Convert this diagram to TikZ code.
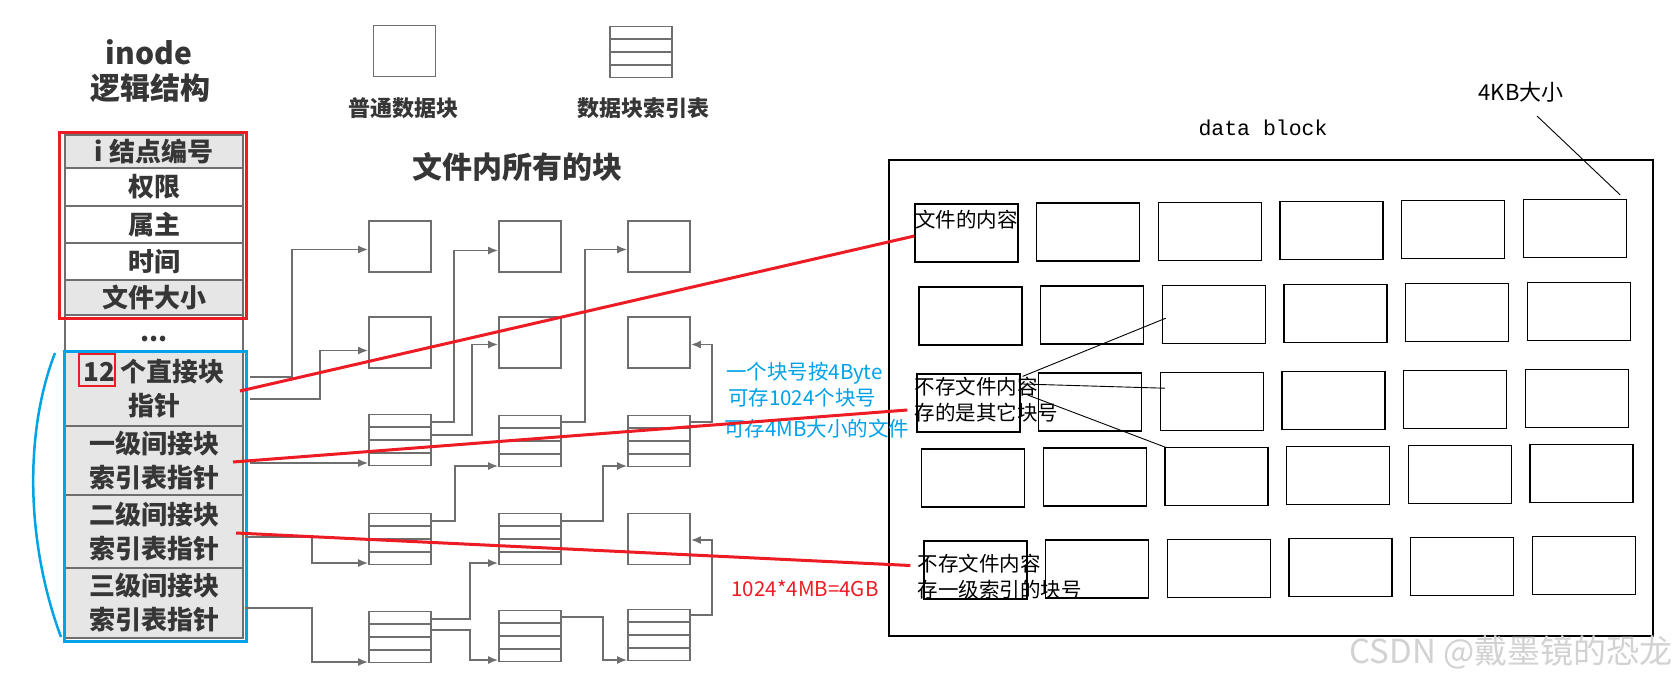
\documentclass[tikz,border=0pt]{standalone}
\usepackage{fontspec}
\usepackage{tikz}
\usetikzlibrary{arrows.meta,positioning,calc}
\newfontfamily\cjk{Noto Sans CJK SC}
\newfontfamily\monofnt{Liberation Mono}
\definecolor{cInk}{HTML}{363636}
\definecolor{cGrid}{HTML}{6E6E6E}
\definecolor{cShade}{HTML}{E6E6E6}
\definecolor{cRed}{HTML}{ED1C24}
\definecolor{cTurq}{HTML}{00A2E8}
\definecolor{cMark}{HTML}{D2D2D2}
\tikzset{
  cell/.style={draw=cGrid,fill=#1,line width=1.8pt,minimum width=178pt,inner sep=0pt,outer sep=0pt,align=center,text=cInk,font=\cjk\bfseries\fontsize{26}{34}\selectfont},
  cell/.default=white,
  blk/.style={draw=cGrid,fill=white,line width=1.8pt,minimum width=62pt,minimum height=51pt,inner sep=0pt},
  itab/.style={blk,path picture={\foreach \k in {1,2,3}
      \draw[cGrid,line width=1.6pt] ($(path picture bounding box.north west)!\k/4!(path picture bounding box.south west)$) -- ($(path picture bounding box.north east)!\k/4!(path picture bounding box.south east)$);}},
  arr/.style={-{Latex[length=10pt,width=8pt]},line width=1.6pt,draw=cGrid},
  dblk/.style={draw=black,line width=1.3pt,minimum width=103pt,minimum height=58pt,inner sep=0pt},
  dtxt/.style={font=\cjk\fontsize{20.5}{26}\selectfont,inner sep=0pt,align=left},
  redln/.style={cRed,line width=3pt},
  leader/.style={black,line width=0.9pt},
  hd/.style={font=\cjk\bfseries\fontsize{30}{36}\selectfont,text=cInk},
  lgd/.style={font=\cjk\bfseries\fontsize{22}{26}\selectfont,text=cInk},
}

\begin{document}
\begin{tikzpicture}[x=1pt,y=-1pt]
  \path[use as bounding box,fill=white] (0,0) rectangle (1675,681);
  % inode table
  \node[hd] (ttl) at (149,52) {inode};
  \node[hd] (ttl2) at (150,88) {逻辑结构};
  \node[cell=cShade,minimum height=33pt] (r1) at (154,151.5) {i 结点编号};
  \node[cell,minimum height=38pt,below=0pt of r1] (r2) {权限};
  \node[cell,minimum height=37pt,below=0pt of r2] (r3) {属主};
  \node[cell,minimum height=37pt,below=0pt of r3] (r4) {时间};
  \node[cell=cShade,minimum height=35pt,below=0pt of r4] (r5) {文件大小};
  \node[cell,minimum height=37pt,text height=20pt,text depth=5pt,below=0pt of r5] (r6) {...};
  \node[cell=cShade,minimum height=74pt,below=0pt of r6] (p0) {12 个直接块\\指针};
  \node[cell=cShade,minimum height=69pt,below=0pt of p0] (p1) {一级间接块\\索引表指针};
  \node[cell=cShade,minimum height=73pt,below=0pt of p1] (p2) {二级间接块\\索引表指针};
  \node[cell=cShade,minimum height=70pt,below=0pt of p2] (p3) {三级间接块\\索引表指针};
  \draw[cRed,line width=3pt] ($(r1.north west)+(-6,-3)$) rectangle ($(r5.south east)+(3,3)$);
  \draw[cTurq,line width=3pt] ($(p0.north west)+(-1,-1)$) rectangle ($(p3.south east)+(3,3)$);
  \node[draw=cRed,line width=2.5pt,minimum width=36pt,minimum height=32pt,inner sep=0pt] (n12) at ($(p0.north west)+(32,18)$) {};
  \draw[cTurq,line width=2.5pt] ($(p0.north west)+(-10,1)$) .. controls (25,430) and (25,540) .. ($(p3.south west)+(-4,-1)$);

  % legend
  \node[blk] (lg1) at (404.5,51) {};
  \node[itab] (lg2) at (641,52) {};
  \node[lgd] (lg1t) at (403,108) {普通数据块};
  \node[lgd] (lg2t) at (643,108) {数据块索引表};
  \node[hd] (allblk) at (517,167) {文件内所有的块};

  % file blocks
  \foreach \n/\x/\y in {d11/400/246.5,d12/530/246.5,d13/659/246.5,d21/400/342.5,d22/530/342.5,d23/659/342.5,d43/659/539}
    \node[blk] (\n) at (\x,\y) {};
  \foreach \n/\x/\y in {t31/400/440,t32/530/441,t33/659/441,t41/400/539,t42/530/539,t51/400/637,t52/530/636,t53/659/635}
    \node[itab] (\n) at (\x,\y) {};

  \draw[arr] ($(p0.east)+(7,-12)$) -- ++(42,0) |- ($(d11.west)+(0,3)$);
  \draw[arr] ($(p0.east)+(7,10)$) -- ++(70,0) |- ($(d21.west)+(0,8)$);
  \draw[arr] ($(p1.east)+(7,2.5)$) -- ($(t31.west)+(0,23)$);
  \draw[arr] ($(p2.east)+(2,5.5)$) -- ++(67,0) |- ($(t41.west)+(0,24)$);
  \draw[arr] ($(p3.east)+(2,5)$) -- ++(67,0) |- ($(t51.west)+(0,25)$);
  \draw[arr] ($(t31.east)+(0,-18)$) -- ++(22,0) |- ($(d12.west)+(0,4)$);
  \draw[arr] ($(t31.east)+(0,-5)$) -- ++(40,0) |- ($(d22.west)+(0,2)$);
  \draw[arr] ($(t32.east)+(0,-19)$) -- ++(23,0) |- ($(d13.west)+(0,3)$);
  \draw[arr] ($(t33.east)+(0,-19)$) -- ++(21,0) |- ($(d23.east)+(0,2)$);
  \draw[arr] ($(t41.east)+(0,-18)$) -- ++(23,0) |- ($(t32.west)+(0,25)$);
  \draw[arr] ($(t42.east)+(0,-18)$) -- ++(41,0) |- ($(t33.west)+(0,25)$);
  \draw[arr] ($(t53.east)+(0,-20)$) -- ++(21,0) |- ($(d43.east)+(0,1)$);
  \draw[arr] ($(t51.east)+(0,-18)$) -- ++(38,0) |- ($(t42.west)+(0,24)$);
  \draw[arr] ($(t51.east)+(0,-7)$) -- ++(38,0) |- ($(t52.west)+(0,24)$);
  \draw[arr] ($(t52.east)+(0,-19)$) -- ++(41,0) |- ($(t53.west)+(0,25)$);

  % data block area
  \node[draw,line width=1.3pt,minimum width=764pt,minimum height=476pt,inner sep=0pt] (frame) at (1271,398) {};
  \node[font=\monofnt\fontsize{21.5}{26}\selectfont] (dbl) at (1263,128) {data block};
  \node[dtxt,font=\cjk\fontsize{22}{26}\selectfont] (kb) at (1521,92) {4KB大小};
  \foreach \r/\dx/\y in {1/0/233,2/4/316,3/2/403,4/6.5/478,5/9/570}
    \foreach \c in {1,...,6}
      \node[dblk] (b\r\c) at ({966.5+121.7*(\c-1)+\dx},{\y-0.9*(\c-1)}) {};
  \draw[leader] ($(kb.center)+(16,24)$) -- ($(b16.north east)+(-7,-4)$);

  \node[dtxt] (cont) at ($(b11.north)+(0,16)$) {文件的内容};
  \node[dtxt,anchor=west] (other) at ($(b31.west)+(-2,-3)$) {不存文件内容\\存的是其它块号};
  \node[dtxt,anchor=west] (lvl1) at ($(b51.west)+(-6,6.5)$) {不存文件内容\\存一级索引的块号};
  \draw[leader] ($(b31.north east)+(2,3)$) -- ($(b23.west)+(4,4)$);
  \draw[leader] ($(b31.east)+(2,-19)$) -- ($(b33.west)+(5,-13)$);
  \draw[leader] ($(b31.east)+(7,-8)$) -- ($(b43.north west)+(2,1)$);

  \node[dtxt,text=cTurq,anchor=west] (info1) at (726,373) {一个块号按4Byte};
  \node[dtxt,text=cTurq,anchor=west] (info2) at (728,398) {可存1024个块号};
  \node[dtxt,text=cTurq,anchor=west] (info3) at (724,429) {可存4MB大小的文件};
  \node[dtxt,text=cRed] (calc4g) at (805,588) {1024*4MB=4GB};

  \draw[redln] ($(p0.east)+(-3,2)$) -- ($(b11.west)+(0,3)$);
  \draw[redln] ($(p1.east)+(-10,1.5)$) -- ($(b31.west)+(-9,7)$);
  \draw[redln] ($(p2.east)+(-7,1.5)$) -- ($(b51.west)+(-13,-4.5)$);

  \node[font=\cjk\fontsize{33}{36}\selectfont,text=cMark] (wm) at (1511,652) {CSDN @戴墨镜的恐龙};
\end{tikzpicture}
\end{document}
